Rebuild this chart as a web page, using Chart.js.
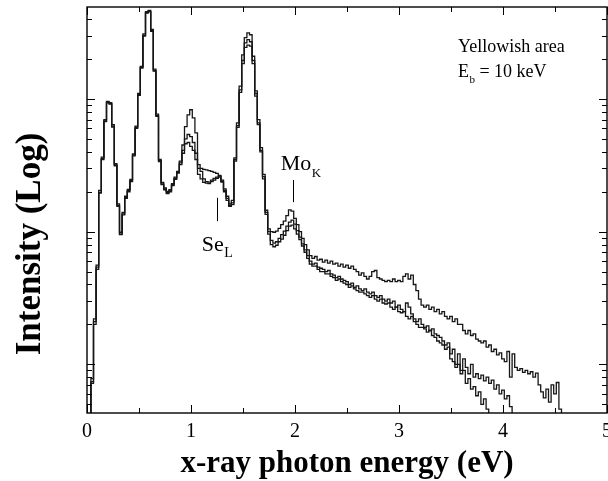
<!DOCTYPE html>
<html>
<head>
<meta charset="utf-8">
<script src="https://cdn.jsdelivr.net/npm/chart.js@4/dist/chart.umd.min.js"></script>
<style>
  html, body { margin: 0; padding: 0; background: #fff; }
  #wrap { width: 608px; height: 481px; }
</style>
</head>
<body>
<div id="wrap"><canvas id="c" width="608" height="481"></canvas></div>
<script>
// Energy bins (eV) are spaced BIN_WIDTH apart starting at 0.
const BIN_WIDTH = 0.025;

// Three spectra recorded on the yellowish area, counts per bin.
const spectrumA = [
  3,3,7.8,22,56,205,365,700,960,940,640,325,162,99,140,185,208,248,385,625,
  1100,1760,3100,4550,4650,3350,1680,770,350,235,214,201,207,230,258,285,
  340,450,620,760,830,720,555,320,300,295,
  292,288,285,280,275,265,245,210,185,162,172,
  360,660,1250,2150,2900,3150,3050,2100,1150,700,430,270,145,105,
  100,99,101,106,113,120,132,146,143,126,113,100,89,80,73,
  66,63,65,61,62,59,61,58,60,57,
  58,55,57,54,56,53,55,52,50,47,
  49,46,44,46,50,51,45,44,43,42,
  43,42,44,42,43,42,46,48,44,47,
  40,36,31,28,27,28,26,27,25,26,
  24,25,23,22,23,21,22,20,20,18,
  17,18,16.5,17,15.5,15,14.5,15,13.5,14,
  12.5,13,11.8,12.2,11,10.5,12.5,8,12,9.5,
  9,9.3,8.7,9,8.5,8.8,8,8.6,7,6.2,
  5.6,6.5,5.2,7,6,7.3,4.6,2
];
const spectrumB = [
  3,3,7.4,21,54,198,355,685,945,925,625,318,158,96,136,181,204,242,377,610,
  1080,1730,3020,4480,4580,3270,1640,750,343,229,210,197,203,226,252,280,
  330,410,500,540,520,470,390,300,285,250,
  238,236,245,252,258,262,240,205,178,155,165,
  350,630,1170,1950,2650,2800,2700,1950,1100,660,410,260,140,100,
  86,82,84,89,95,101,110,118,122,114,102,91,81,73,66,
  60,57,58,54,53,52,50,51,48,47,
  45,46,44,43,42,40,41,38,39,37,
  36,37,35,34,35,33,32,33,31,30,
  31,29,30,27,28,26,25,29,27,24,
  22,21,22,20,19,19.5,18,18.5,17,16.5,
  16,15,14,14.5,12,13,10,12,9,11,
  9.5,8.5,10,8,8.5,7.8,8.3,7.5,8,7.2,
  7.6,6.5,7,6,6.4,5.5,5.8,4.8,2
];
const spectrumC = [
  3,3,7.2,20,52,195,350,675,935,915,615,314,155,95,134,178,200,238,372,600,
  1065,1710,2980,4430,4540,3230,1620,740,338,226,207,194,200,222,248,276,
  320,390,460,470,440,410,350,270,250,235,
  232,230,238,245,252,258,236,200,172,158,160,
  340,610,1120,1850,2450,2550,2500,1850,1050,640,400,250,135,96,
  80,77,79,84,88,94,102,110,112,105,96,87,78,70,63,
  57,55,55,52,50,50,48,48,46,45,
  43,44,42,41,40,38,39,37,36,35,
  35,34,33,32,33,31,30,31,29,28.5,
  29,27,26,27,25,24.5,25,23,22,23,
  21,20,19,19,18.5,17.5,18,16.5,16,15,
  14.5,14,13,13.5,11,10.5,9.5,10,8.5,9,
  7.2,7.8,6.5,6.8,5.8,6.2,5,5.5,4.6,2
];

// Axis ticks
const xMajorTicks = [0, 1, 2, 3, 4, 5];
const xTickLabels = ['0', '1', '2', '3', '4', '5'];
const xMinorTicks = [0.5, 1.5, 2.5, 3.5, 4.5];
const yDecades = [1, 10, 100, 1000];

const SERIF = '"Liberation Serif", "Times New Roman", Times, serif';

function toPoints(values) {
  return values.map((v, i) => ({ x: i * BIN_WIDTH, y: v }));
}

function lineSet(label, values) {
  return {
    label,
    data: toPoints(values),
    stepped: 'middle',
    borderColor: '#161616',
    borderWidth: 1.3,
    pointRadius: 0,
    fill: false
  };
}

// Text with a lowered subscript, anchored at the main text's baseline.
function subText(ctx, main, sub, x, y, size, subSize, drop) {
  ctx.font = size + 'px ' + SERIF;
  ctx.textAlign = 'left';
  ctx.textBaseline = 'alphabetic';
  ctx.fillText(main, x, y);
  const w = ctx.measureText(main).width;
  ctx.font = subSize + 'px ' + SERIF;
  ctx.fillText(sub, x + w + 0.5, y + drop);
  return x + w + 0.5 + ctx.measureText(sub).width;
}

const framePlugin = {
  id: 'framePlugin',
  afterDatasetsDraw(chart) {
    const { ctx, chartArea: a, scales } = chart;
    const xs = scales.x, ys = scales.y;
    ctx.save();

    // frame
    ctx.strokeStyle = '#000';
    ctx.lineWidth = 1.4;
    ctx.strokeRect(a.left, a.top, a.right - a.left, a.bottom - a.top);

    // inward tick marks on all four sides
    ctx.lineWidth = 1;
    ctx.beginPath();
    const xTick = (v, len) => {
      const px = Math.round(xs.getPixelForValue(v)) + 0.5;
      ctx.moveTo(px, a.bottom); ctx.lineTo(px, a.bottom - len);
      ctx.moveTo(px, a.top); ctx.lineTo(px, a.top + len);
    };
    xMajorTicks.forEach(v => xTick(v, 8));
    xMinorTicks.forEach(v => xTick(v, 5));
    yDecades.forEach(d => {
      for (let m = 1; m <= 9; m++) {
        const v = m * d;
        if (v < ys.min || v > ys.max) continue;
        const py = Math.round(ys.getPixelForValue(v)) + 0.5;
        const len = m === 1 ? 8 : 5;
        ctx.moveTo(a.left, py); ctx.lineTo(a.left + len, py);
        ctx.moveTo(a.right, py); ctx.lineTo(a.right - len, py);
      }
    });
    ctx.stroke();

    ctx.fillStyle = '#000';

    // x tick labels
    ctx.font = '20px ' + SERIF;
    ctx.textAlign = 'center';
    ctx.textBaseline = 'alphabetic';
    xMajorTicks.forEach((v, i) => {
      ctx.fillText(xTickLabels[i], xs.getPixelForValue(v), 437);
    });

    // axis titles
    ctx.font = 'bold 31px ' + SERIF;
    ctx.fillText('x-ray photon energy (eV)', (a.left + a.right) / 2, 472);
    ctx.save();
    ctx.translate(40, 244);
    ctx.rotate(-Math.PI / 2);
    ctx.font = 'bold 35px ' + SERIF;
    ctx.fillText('Intensity (Log)', 0, 0);
    ctx.restore();

    // sample note
    ctx.font = '18px ' + SERIF;
    ctx.textAlign = 'left';
    const nx = xs.getPixelForValue(3.567);
    ctx.fillText('Yellowish area', nx, ys.getPixelForValue(2259));
    const ex = subText(ctx, 'E', 'b', nx, ys.getPixelForValue(1466), 18, 11, 6);
    ctx.font = '18px ' + SERIF;
    ctx.fillText(' = 10 keV', ex, ys.getPixelForValue(1466));

    // line markers
    ctx.lineWidth = 1;
    ctx.beginPath();
    const seX = Math.round(xs.getPixelForValue(1.249)) + 0.5;
    ctx.moveTo(seX, ys.getPixelForValue(180));
    ctx.lineTo(seX, ys.getPixelForValue(120));
    const moX = Math.round(xs.getPixelForValue(1.985)) + 0.5;
    ctx.moveTo(moX, ys.getPixelForValue(245));
    ctx.lineTo(moX, ys.getPixelForValue(167));
    ctx.stroke();

    subText(ctx, 'Se', 'L', xs.getPixelForValue(1.103), ys.getPixelForValue(71), 22, 14, 6);
    subText(ctx, 'Mo', 'K', xs.getPixelForValue(1.862), ys.getPixelForValue(292), 22, 13, 7);

    ctx.restore();
  }
};

new Chart(document.getElementById('c'), {
  type: 'line',
  data: {
    datasets: [
      lineSet('Spectrum A', spectrumA),
      lineSet('Spectrum B', spectrumB),
      lineSet('Spectrum C', spectrumC)
    ]
  },
  options: {
    responsive: false,
    animation: false,
    devicePixelRatio: 1,
    layout: { padding: { left: 87, right: 1, top: 7, bottom: 68 } },
    scales: {
      x: { type: 'linear', min: 0, max: 5, display: false },
      y: { type: 'logarithmic', min: 4.3, max: 4935, display: false }
    },
    plugins: {
      legend: { display: false },
      tooltip: { enabled: false }
    }
  },
  plugins: [framePlugin]
});
</script>
</body>
</html>
